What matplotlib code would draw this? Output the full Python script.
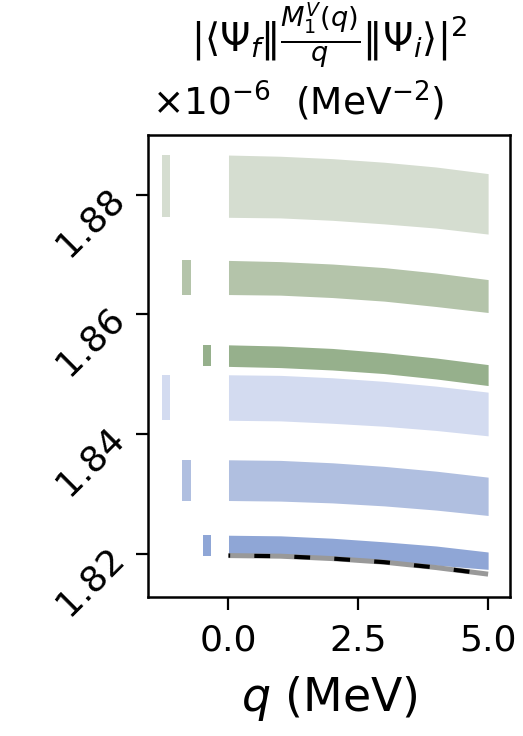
import matplotlib
matplotlib.use("Agg")
import matplotlib.pyplot as plt
import numpy as np

# q grid (MeV) and band edges, in units of 1e-6 MeV^-2
q = [0.0, 1.0, 2.0, 3.0, 4.0, 5.0]

band_lo = [
    [1.8762, 1.8761, 1.8757, 1.8751, 1.8744, 1.8734],
    [1.8633, 1.8632, 1.8628, 1.8622, 1.8613, 1.8603],
    [1.8513, 1.8511, 1.8507, 1.8501, 1.8492, 1.8481],
    [1.8423, 1.8422, 1.8418, 1.8413, 1.8406, 1.8397],
    [1.8289, 1.8288, 1.8285, 1.8280, 1.8273, 1.8264],
    [1.8196, 1.8195, 1.8192, 1.8188, 1.8181, 1.8174],
]
band_hi = [
    [1.8866, 1.8864, 1.8860, 1.8854, 1.8846, 1.8835],
    [1.8690, 1.8688, 1.8684, 1.8678, 1.8669, 1.8658],
    [1.8549, 1.8547, 1.8543, 1.8536, 1.8527, 1.8516],
    [1.8499, 1.8498, 1.8494, 1.8488, 1.8480, 1.8470],
    [1.8357, 1.8356, 1.8352, 1.8346, 1.8338, 1.8328],
    [1.8231, 1.8230, 1.8226, 1.8220, 1.8213, 1.8203],
]
band_colors = ["#d5ddd0", "#b4c4aa", "#96b08c", "#d3dbf0", "#b0bfe0", "#8fa6d6"]

# small bars left of q=0: x extents per band
bar_x = [
    [-1.29, -1.13],
    [-0.90, -0.73],
    [-0.49, -0.33],
    [-1.29, -1.13],
    [-0.90, -0.73],
    [-0.49, -0.33],
]

# reference curve (dashed)
ref_curve = [1.8197, 1.8196, 1.8192, 1.8186, 1.8177, 1.8166]

fig = plt.figure(figsize=(5.23, 7.36), dpi=100)
ax = fig.add_axes([0.283, 0.189, 0.692, 0.628])

for lo, hi, c, bx in zip(band_lo, band_hi, band_colors, bar_x):
    ax.fill_between(q, lo, hi, color=c, lw=0)
    ax.fill_between(bx, [lo[0]] * 2, [hi[0]] * 2, color=c, lw=0)

ax.plot(q, ref_curve, color="#999999", lw=3.6, solid_capstyle="butt")
ax.plot(q, ref_curve, color="black", lw=3.0,
        linestyle=(3.4, (3.8, 5.8)), dash_capstyle="butt")

ax.set_xlim(-1.55, 5.42)
ax.set_ylim(1.8128, 1.890)
ax.set_xticks([0.0, 2.5, 5.0])
ax.set_xticklabels(["0.0", "2.5", "5.0"])
ax.set_yticks([1.82, 1.84, 1.86, 1.88])
ax.set_yticklabels(["1.82", "1.84", "1.86", "1.88"], rotation=45)
ax.tick_params(labelsize=26, length=9, width=1.6)
ax.tick_params(axis="x", pad=10)
for s in ax.spines.values():
    s.set_linewidth(1.8)

ax.set_xlabel("$q$ (MeV)", fontsize=33, labelpad=12)
ax.text(0.5, 1.14,
        r"$|\langle\Psi_f\|\frac{M_1^V(q)}{q}\|\Psi_i\rangle|^2$",
        transform=ax.transAxes, ha="center", va="bottom", fontsize=28)
ax.text(0.01, 1.025, r"$\times10^{-6}$  (MeV$^{-2}$)",
        transform=ax.transAxes, ha="left", va="bottom", fontsize=27)

fig.savefig("out.png", dpi=100)
